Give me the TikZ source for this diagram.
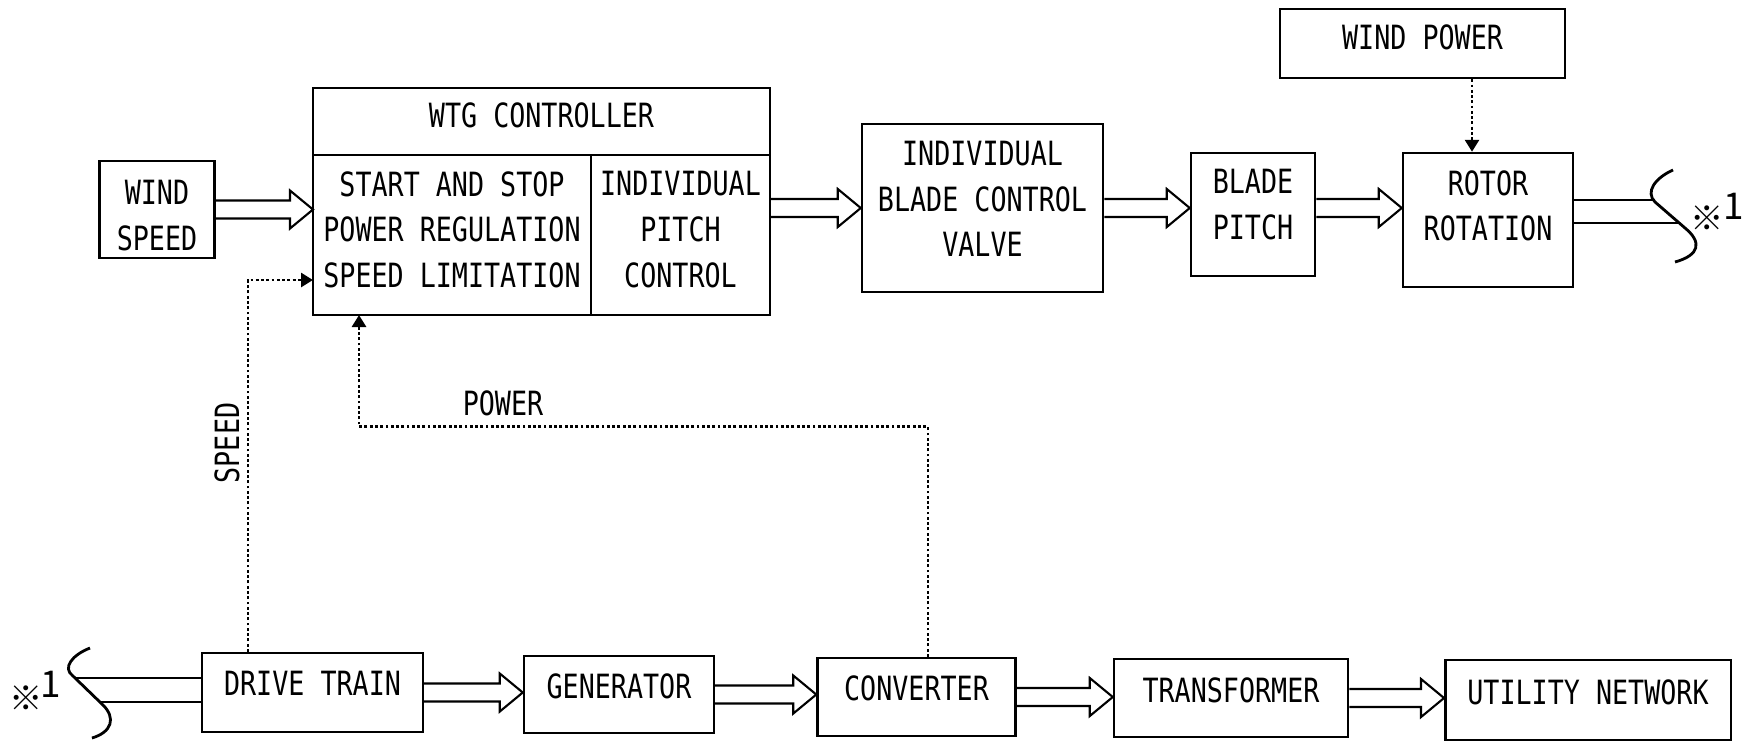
\documentclass[tikz,border=0pt]{standalone}
\usepackage{fontspec}
\usepackage{tikz}
\usetikzlibrary{arrows.meta,positioning,calc}
\newfontfamily\gothic{DejaVu Sans Mono}[FakeStretch=0.8]
\newfontfamily\cjkfont{Noto Sans CJK JP}

% hollow block arrow, level with its start point
\newcommand{\fatarrow}[2]{%
  \draw[shaft] let \p1=(#1), \p2=(#2) in
    (\x1,\y1+0.9mm) -- (\x2-2.3mm,\y1+0.9mm) -- (\x2-2.3mm,\y1+1.9mm)
    -- (\x2,\y1) -- (\x2-2.3mm,\y1-1.9mm) -- (\x2-2.3mm,\y1-0.9mm) -- (\x1,\y1-0.9mm);}

\begin{document}
\begin{tikzpicture}[
  font=\gothic\fontsize{9.5}{13}\selectfont,
  textlift/.style={execute at end node={\rule[-#1]{0pt}{#1}}},
  box/.style={draw, line width=0.7pt, align=center, inner sep=2pt},
  cell/.style={box, outer sep=0pt},
  shaft/.style={line width=0.6pt, line join=miter},
  feed/.style={line width=0.8pt, dash pattern=on 0.8pt off 0.7pt, -{Triangle[length=1.2mm,width=1.4mm]}},
  refmark/.style={font=\cjkfont\fontsize{9.5}{12}\selectfont, inner sep=0pt},
  refnum/.style={font=\cjkfont\fontsize{10.5}{12}\selectfont, inner sep=0pt},
]
\useasboundingbox (0,0) rectangle (17.53,-7.41);
% upper chain
\node[box, text height=8.2mm, minimum width=1.15cm, minimum height=0.95cm] (wind) at (1.57,-2.095) {WIND\\SPEED};
\node[cell, textlift=1.3mm, minimum width=4.57cm, minimum height=0.67cm] (ctrl) at (5.415,-1.215) {WTG CONTROLLER};
\node[cell, textlift=1.1mm, anchor=north west, minimum width=2.78cm, minimum height=1.6cm] (ctrlmain) at (ctrl.south west)
  {START AND STOP\\POWER REGULATION\\SPEED LIMITATION};
\node[cell, textlift=1.1mm, anchor=north east, minimum width=1.79cm, minimum height=1.6cm] (ctrlpitch) at (ctrl.south east)
  {INDIVIDUAL\\PITCH\\CONTROL};
\node[box, textlift=1.8mm, minimum width=2.41cm, minimum height=1.68cm] (valve) at (9.825,-2.08)
  {INDIVIDUAL\\BLADE CONTROL\\VALVE};
\node[box, textlift=2mm, minimum width=1.24cm, minimum height=1.23cm] (blade) at (12.53,-2.145) {BLADE\\PITCH};
\node[box, textlift=2.9mm, minimum width=1.70cm, minimum height=1.34cm] (rotor) at (14.88,-2.20) {ROTOR\\ROTATION};
\node[box, textlift=1.3mm, minimum width=2.85cm, minimum height=0.69cm] (windpow) at (14.225,-0.435) {WIND POWER};
% lower chain
\node[box, textlift=1.8mm, minimum width=2.21cm, minimum height=0.79cm] (drive) at (3.125,-6.925) {DRIVE TRAIN};
\node[box, textlift=1.6mm, minimum width=1.90cm, minimum height=0.77cm] (gen) at (6.19,-6.945) {GENERATOR};
\node[box, textlift=1.8mm, minimum width=1.98cm, minimum height=0.78cm] (conv) at (9.165,-6.97) {CONVERTER};
\node[box, textlift=1.6mm, minimum width=2.34cm, minimum height=0.78cm] (trans) at (12.31,-6.98) {TRANSFORMER};
\node[box, textlift=1.6mm, minimum width=2.855cm, minimum height=0.80cm] (util) at (15.88,-7.00) {UTILITY NETWORK};

% power flow
\fatarrow{wind.east}{ctrlmain.west |- wind.east}
\fatarrow{ctrlpitch.east |- valve.west}{valve.west}
\fatarrow{valve.east}{blade.west |- valve.east}
\fatarrow{blade.east |- valve.east}{rotor.west |- valve.east}
\fatarrow{drive.east}{gen.west |- drive.east}
\fatarrow{gen.east}{conv.west |- gen.east}
\fatarrow{conv.east}{trans.west |- conv.east}
\fatarrow{trans.east}{util.west |- trans.east}

% shaft break *1
\coordinate (cutR1) at (16.53,-2.00);
\coordinate (cutR2) at (16.80,-2.23);
\draw[shaft] (rotor.east |- cutR1) -- (cutR1);
\draw[shaft] (rotor.east |- cutR2) -- (cutR2);
\draw[line width=0.8pt] (16.73,-1.70) .. controls (16.55,-1.78) and (16.45,-1.92) .. (16.55,-2.02)
  -- (16.85,-2.28) .. controls (17.02,-2.42) and (17.00,-2.55) .. (16.75,-2.62);
\node[refmark] (refR) at (17.07,-2.18) {※};
\node[refnum] (numR) at (17.34,-2.06) {1};
\coordinate (cutL1) at (0.75,-6.78);
\coordinate (cutL2) at (1.00,-7.02);
\draw[shaft] (cutL1) -- (drive.west |- cutL1);
\draw[shaft] (cutL2) -- (drive.west |- cutL2);
\draw[line width=0.8pt] (0.90,-6.48) .. controls (0.72,-6.55) and (0.62,-6.68) .. (0.73,-6.76)
  -- (1.03,-7.05) .. controls (1.16,-7.18) and (1.12,-7.32) .. (0.92,-7.38);
\node[refmark] (refL) at (0.26,-6.98) {※};
\node[refnum] (numL) at (0.51,-6.84) {1};

% feedback signals
\draw[feed] ([xshift=-6.45mm]drive.north) |- ([yshift=-4.5mm]ctrlmain.west);
\draw[feed] ([xshift=1.15mm]conv.north) -- ++(0,2.30) -| ([xshift=-9.3mm]ctrlmain.south);
\draw[feed] ([xshift=-1.6mm]rotor.north |- windpow.south) -- ([xshift=-1.6mm]rotor.north);
\node[rotate=90] (speedlbl) at (2.27,-4.43) {SPEED};
\node (powerlbl) at (5.03,-4.03) {POWER};
\end{tikzpicture}
\end{document}
